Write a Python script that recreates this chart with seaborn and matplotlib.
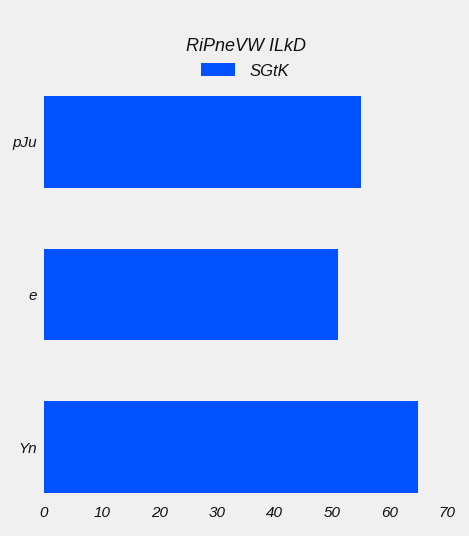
import matplotlib.pyplot as plt
import seaborn as sns

categories = ['pJu', 'e', 'Yn']
values = [55, 51, 65]
series_name = 'SGtK'
legend_title = 'RiPneVW ILkD'
x_ticks = [0, 10, 20, 30, 40, 50, 60, 70]

sns.set_style('white')
plt.rcParams['font.family'] = ['Liberation Sans', 'DejaVu Sans']
plt.rcParams['font.style'] = 'italic'

fig = plt.figure(figsize=(4.69, 5.36), dpi=100, facecolor='#f0f0f0')
ax = fig.add_axes([0.094, 0.080, 0.859, 0.741])
ax.set_facecolor('#f0f0f0')

sns.barplot(x=values, y=categories, orient='h', color='#0052ff', width=0.6,
            saturation=1, linewidth=0, label=series_name, ax=ax)

ax.set_xlim(0, 70)
ax.set_ylim(2.3, -0.3)
ax.set_xticks(x_ticks)
ax.set_xticklabels([str(t) for t in x_ticks])
ax.tick_params(axis='both', length=0, labelsize=11, colors='#111111')
ax.tick_params(axis='x', pad=9)
ax.tick_params(axis='y', pad=5)
for lbl in ax.get_xticklabels() + ax.get_yticklabels():
    lbl.set_fontstyle('italic')
ax.set_xlabel('')
ax.set_ylabel('')
for s in ax.spines.values():
    s.set_visible(False)
ax.grid(False)

leg = ax.legend(loc='lower center', bbox_to_anchor=(0.25, 1.006, 0.5, 0.1),
                frameon=False, title=legend_title, fontsize=12,
                title_fontsize=13, handlelength=2.0, handleheight=0.8,
                handletextpad=0.9, labelspacing=0.5)
leg.get_title().set_fontstyle('italic')
for t in leg.get_texts():
    t.set_fontstyle('italic')
    t.set_color('#111111')
leg.get_title().set_color('#111111')

fig.savefig('out.png', dpi=100, facecolor='#f0f0f0')
